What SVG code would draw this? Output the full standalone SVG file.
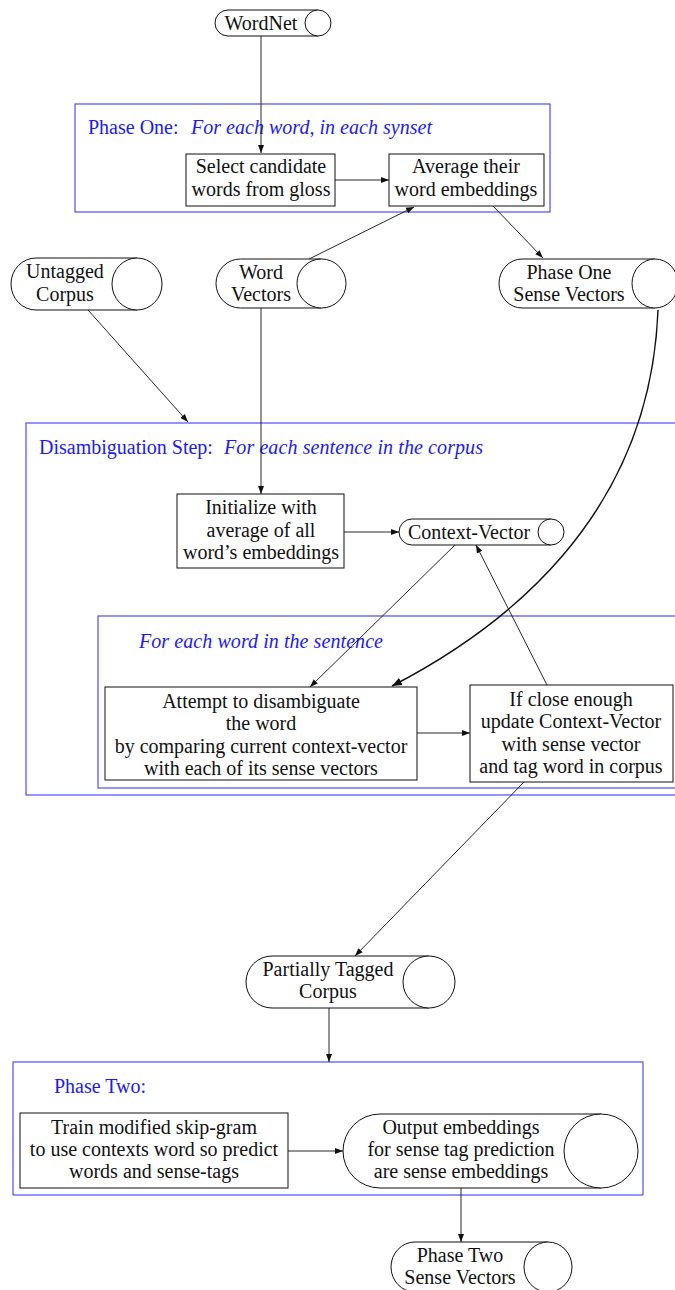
<svg xmlns="http://www.w3.org/2000/svg" width="675" height="1290" viewBox="0 0 675 1290">
<style>
text{font-family:"Liberation Serif","Times New Roman",serif;font-size:20px;fill:#111;}
.c{text-anchor:middle;}
.bl{fill:#1a1aff;}
.it{font-style:italic;}
.grp{fill:none;stroke:#3d3dff;stroke-width:1.1;}
.box{fill:#fff;stroke:#111;stroke-width:1;}
.cyl{fill:#fff;stroke:#111;stroke-width:1;}
.ln{fill:none;stroke:#111;stroke-width:0.9;marker-end:url(#ah);}
.curve{fill:none;stroke:#111;stroke-width:1.5;marker-end:url(#ah2);}
</style>
<defs>
<marker id="ah" markerUnits="userSpaceOnUse" markerWidth="9" markerHeight="7" refX="8" refY="3.5" orient="auto"><path d="M0,0.5 L8,3.5 L0,6.5 Z" fill="#111"/></marker>
<marker id="ah2" markerUnits="userSpaceOnUse" markerWidth="11" markerHeight="9" refX="10" refY="4.5" orient="auto"><path d="M0,0.5 L10,4.5 L0,8.5 Z" fill="#111"/></marker>
</defs>

<g id="phase-one">
<rect class="grp" x="75" y="104" width="475" height="108"/>
<text class="bl" x="88" y="134">Phase One: <tspan class="it" x="191" textLength="241">For each word, in each synset</tspan></text>
</g>
<g id="disambiguation">
<rect class="grp" x="26" y="423" width="680" height="372"/>
<text class="bl" x="39" y="454">Disambiguation Step: <tspan class="it" x="224" textLength="259">For each sentence in the corpus</tspan></text>
</g>
<g id="each-word">
<rect class="grp" x="98" y="616" width="608" height="172"/>
<text class="bl it" x="139" y="648" textLength="244">For each word in the sentence</text>
</g>
<g id="phase-two">
<rect class="grp" x="13" y="1062" width="630" height="133"/>
<text class="bl" x="54" y="1093">Phase Two:</text>
</g>

<g id="connectors">
<path class="ln" d="M261,36 L261,153"/>
<path class="ln" d="M335,180 L389,180"/>
<path class="ln" d="M309,259 L414,207"/>
<path class="ln" d="M493,206 L543,258"/>
<path class="ln" d="M88,310 L188,422"/>
<path class="ln" d="M261,308 L261,494"/>
<path class="ln" d="M344,532 L399,532"/>
<path class="ln" d="M455,545 L310,687"/>
<path class="ln" d="M547,685 L476,545"/>
<path class="ln" d="M417,733 L470,733"/>
<path class="curve" d="M658,310 C650,520 500,630 392,686"/>
<path class="ln" d="M524,782 L355,956"/>
<path class="ln" d="M329,1008 L329,1062"/>
<path class="ln" d="M288,1151 L343,1151"/>
<path class="ln" d="M461,1188 L461,1242"/>
</g>

<g id="wordnet">
<path class="cyl" d="M318,10 L228,10 A13,13 0 0 0 228,36 L318,36"/>
<ellipse class="cyl" cx="318" cy="23" rx="13" ry="13"/>
<text class="c" x="261" y="30">WordNet</text>
</g>
<g id="select-candidate">
<rect class="box" x="186" y="154" width="149" height="52"/>
<text class="c" x="261" y="173">Select candidate</text>
<text class="c" x="261" y="196">words from gloss</text>
</g>
<g id="average-embeddings">
<rect class="box" x="389" y="154" width="155" height="52"/>
<text class="c" x="466" y="173">Average their</text>
<text class="c" x="466" y="196">word embeddings</text>
</g>
<g id="untagged-corpus">
<path class="cyl" d="M137,258 L36,258 A25,26 0 0 0 36,310 L137,310"/>
<ellipse class="cyl" cx="137" cy="284" rx="25" ry="26"/>
<text class="c" x="65" y="278">Untagged</text>
<text class="c" x="65" y="301">Corpus</text>
</g>
<g id="word-vectors">
<path class="cyl" d="M321.5,259 L240.5,259 A24.5,24.5 0 0 0 240.5,308 L321.5,308"/>
<ellipse class="cyl" cx="321.5" cy="283.5" rx="24.5" ry="24.5"/>
<text class="c" x="261" y="279">Word</text>
<text class="c" x="261" y="301">Vectors</text>
</g>
<g id="phase-one-sense-vectors">
<path class="cyl" d="M655,259 L522,259 A23,24.5 0 0 0 522,308 L655,308"/>
<ellipse class="cyl" cx="655" cy="283.5" rx="23" ry="24.5"/>
<text class="c" x="569" y="279">Phase One</text>
<text class="c" x="569" y="301">Sense Vectors</text>
</g>
<g id="initialize">
<rect class="box" x="177" y="494" width="167" height="74"/>
<text class="c" x="261" y="514">Initialize with</text>
<text class="c" x="261" y="537">average of all</text>
<text class="c" x="261" y="559">word’s embeddings</text>
</g>
<g id="context-vector">
<path class="cyl" d="M551,519 L412,519 A13,13 0 0 0 412,545 L551,545"/>
<ellipse class="cyl" cx="551" cy="532" rx="13" ry="13"/>
<text class="c" x="469" y="539">Context-Vector</text>
</g>
<g id="attempt">
<rect class="box" x="105" y="687" width="312" height="93"/>
<text class="c" x="261" y="708">Attempt to disambiguate</text>
<text class="c" x="261" y="730">the word</text>
<text class="c" x="261" y="753">by comparing current context-vector</text>
<text class="c" x="261" y="775">with each of its sense vectors</text>
</g>
<g id="if-close">
<rect class="box" x="470" y="685" width="203" height="97"/>
<text class="c" x="571" y="706">If close enough</text>
<text class="c" x="571" y="728">update Context-Vector</text>
<text class="c" x="571" y="751">with sense vector</text>
<text class="c" x="571" y="773">and tag word in corpus</text>
</g>
<g id="partially-tagged">
<path class="cyl" d="M429,956 L272,956 A26,26 0 0 0 272,1008 L429,1008"/>
<ellipse class="cyl" cx="429" cy="982" rx="26" ry="26"/>
<text class="c" x="328" y="976">Partially Tagged</text>
<text class="c" x="328" y="998">Corpus</text>
</g>
<g id="train">
<rect class="box" x="20" y="1113" width="268" height="75"/>
<text class="c" x="154" y="1134">Train modified skip-gram</text>
<text class="c" x="154" y="1156">to use contexts word so predict</text>
<text class="c" x="154" y="1178">words and sense-tags</text>
</g>
<g id="output-embeddings">
<path class="cyl" d="M601,1114 L380,1114 A37,37 0 0 0 380,1188 L601,1188"/>
<ellipse class="cyl" cx="601" cy="1151" rx="37" ry="37"/>
<text class="c" x="461" y="1134">Output embeddings</text>
<text class="c" x="461" y="1156">for sense tag prediction</text>
<text class="c" x="461" y="1178">are sense embeddings</text>
</g>
<g id="phase-two-sense-vectors">
<path class="cyl" d="M548,1242 L415,1242 A24,25 0 0 0 415,1292 L548,1292"/>
<ellipse class="cyl" cx="548" cy="1267" rx="24" ry="25"/>
<text class="c" x="460" y="1262">Phase Two</text>
<text class="c" x="460" y="1284">Sense Vectors</text>
</g>
</svg>
